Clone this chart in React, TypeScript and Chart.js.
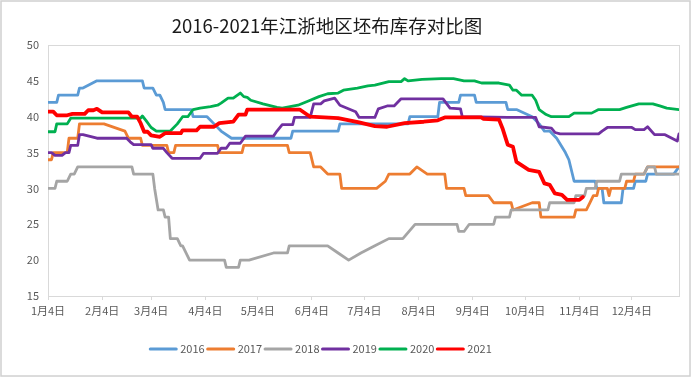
import React, { useEffect, useRef } from "react";
import { Chart, registerables } from "chart.js";

Chart.register(...registerables);

const FONT = '"Noto Sans CJK SC", "Noto Sans", sans-serif';

const TITLE = "2016-2021年江浙地区坯布库存对比图";

// day offsets from Jan 4 where the category axis labels sit
const TICK_DAYS = [0, 31, 59, 90, 120, 151, 181, 212, 243, 273, 304, 334];
const TICK_LABELS = [
  "1月4日", "2月4日", "3月4日", "4月4日", "5月4日", "6月4日",
  "7月4日", "8月4日", "9月4日", "10月4日", "11月4日", "12月4日",
];
const LAST_DAY = 361;
const Y_MIN = 15;
const Y_MAX = 50;
const Y_STEP = 5;

const SERIES_NAMES = ["2016", "2017", "2018", "2019", "2020", "2021"];
const SERIES_COLORS = ["#5B9BD5", "#ED7D31", "#A5A5A5", "#7030A0", "#00B050", "#FF0000"];

// [day offset from Jan 4, stock value]
const S2016: [number, number][] = [
  [0, 42], [5, 42], [6, 43], [17, 43], [18, 44], [20, 44], [28, 45], [54, 45], [55, 44], [60, 44],
  [62, 43], [64, 43], [66, 42], [67, 41], [82, 41], [83, 40], [91, 40], [95, 39], [99, 38], [105, 37],
  [139, 37], [140, 38], [166, 38], [167, 39], [206, 39], [207, 40], [223, 40], [224, 42], [235, 42],
  [236, 43], [244, 43], [245, 42], [262, 42], [263, 41], [268, 41], [277, 40], [281, 39], [284, 38],
  [287, 38], [291, 37], [296, 35], [298, 34], [301, 31], [313, 31], [314, 30], [317, 30], [318, 28],
  [328, 28], [329, 30], [335, 30], [336, 31], [342, 31], [343, 32], [358, 32], [361, 33],
];
const S2017: [number, number][] = [
  [0, 34], [2, 34], [3, 35], [11, 35], [12, 37], [17, 37], [18, 39], [32, 39], [44, 38], [46, 37],
  [53, 37], [54, 36], [68, 36], [69, 35], [72, 35], [73, 36], [97, 36], [98, 35], [111, 35], [112, 36],
  [137, 36], [138, 35], [150, 35], [152, 33], [156, 33], [160, 32], [167, 32], [168, 30], [188, 30],
  [193, 31], [195, 32], [207, 32], [211, 33], [217, 32], [227, 32], [228, 30], [238, 30], [239, 29],
  [252, 29], [255, 28], [265, 28], [266, 27], [277, 28], [281, 28], [282, 26], [301, 26], [302, 27],
  [308, 27], [310, 28], [312, 29], [314, 29], [315, 30], [320, 30], [321, 29], [322, 30],
  [330, 30], [331, 31], [335, 31], [336, 32], [341, 32], [343, 33], [361, 33],
];
const S2018: [number, number][] = [
  [0, 30], [4, 30], [5, 31], [11, 31], [13, 32], [15, 32], [17, 33], [48, 33], [49, 32], [60, 32],
  [61, 30], [63, 27], [66, 27], [67, 26], [69, 26], [70, 23], [74, 23], [76, 22], [77, 22], [81, 20],
  [101, 20], [102, 19], [109, 19], [110, 20], [115, 20], [129, 21], [137, 21], [138, 22], [160, 22],
  [166, 21], [172, 20], [179, 21], [187, 22], [195, 23], [203, 23], [210, 25], [234, 25], [235, 24],
  [238, 24], [241, 25], [255, 25], [256, 26], [264, 26], [265, 27], [286, 27], [287, 28], [301, 28],
  [302, 29], [307, 29], [308, 30], [313, 30], [314, 31], [327, 31], [328, 32], [341, 32], [343, 33],
  [347, 33], [348, 32], [361, 32],
];
const S2019: [number, number][] = [
  [0, 35], [2, 35], [4, 34.6], [8, 34.6], [10, 35], [12, 35], [13, 36], [17, 36], [18, 37.5], [20, 37.5],
  [28, 37], [45, 37], [47, 36.5], [49, 36.1], [59, 36.1], [60, 35.6], [66, 35.6], [68, 35], [71, 34.2],
  [87, 34.2], [89, 34.9], [97, 34.9], [99, 35.6], [102, 35.6], [104, 36.3], [110, 36.3], [113, 37.3],
  [129, 37.3], [131, 38], [134, 38.9], [140, 38.9], [141, 39.9], [150, 39.9], [152, 41.8], [156, 41.8],
  [158, 42.2], [164, 42.6], [167, 41.6], [176, 40.7], [178, 39.9], [187, 39.9], [189, 41.1], [194, 41.5],
  [198, 41.5], [202, 42.5], [226, 42.5], [230, 41.2], [236, 41.1], [237, 40], [263, 39.9], [279, 39.9],
  [281, 38.6], [288, 38.4], [290, 37.8], [293, 37.6], [315, 37.6], [317, 38], [320, 38.5], [334, 38.5],
  [336, 38.2], [341, 38.2], [343, 38.6], [347, 37.5], [353, 37.5], [360, 36.6], [361, 37.6],
];
const S2020: [number, number][] = [
  [0, 37.9], [4, 37.9], [5, 39], [11, 39], [13, 39.8], [53, 39.8], [54, 40.1], [56, 39.5], [59, 38.5],
  [62, 38], [70, 38], [74, 39], [77, 40], [80, 40], [83, 41], [87, 41.2], [93, 41.4], [97, 41.6],
  [99, 41.9], [103, 42.6], [106, 42.6], [110, 43.3], [112, 42.8], [114, 42.7], [116, 42.3], [123, 41.8],
  [131, 41.3], [134, 41.2], [143, 41.6], [149, 42.2], [155, 42.8], [160, 43.2], [166, 43.3], [169, 43.7],
  [177, 44], [183, 44.3], [187, 44.4], [195, 44.9], [202, 44.9], [204, 45.3], [206, 45], [214, 45.2],
  [225, 45.3], [232, 45.3], [238, 45], [244, 45], [248, 44.7], [258, 44.7], [264, 44.4], [266, 43.7],
  [268, 43.7], [271, 43], [277, 43], [279, 42.3], [281, 41], [285, 40.3], [288, 40], [298, 40],
  [301, 40.5], [311, 40.5], [315, 41], [327, 41], [331, 41.3], [338, 41.8], [346, 41.8], [350, 41.5],
  [354, 41.2], [361, 41],
];
const S2021: [number, number][] = [
  [0, 40.7], [3, 40.7], [5, 40.2], [11, 40.2], [14, 40.4], [21, 40.4], [23, 40.9], [26, 40.9], [28, 41.1],
  [31, 40.6], [46, 40.6], [48, 40], [51, 40], [53, 39.1], [55, 37.9], [57, 37.9], [59, 37.4], [64, 37.2],
  [67, 37.7], [76, 37.7], [77, 38.1], [85, 38.1], [87, 38.6], [95, 38.6], [98, 39.1], [106, 39.3],
  [109, 40.3], [113, 40.3], [114, 41], [144, 41], [150, 40], [166, 39.8], [178, 39.2], [187, 38.7],
  [194, 38.6], [204, 39.1], [215, 39.3], [223, 39.5], [227, 39.9], [248, 39.9], [249, 39.7], [258, 39.6],
  [260, 38.4], [263, 36.1], [266, 35.8], [268, 33.7], [275, 32.6], [281, 32.3], [284, 30.7], [287, 30.5],
  [290, 29.3], [294, 29.1], [297, 28.4], [304, 28.4], [306, 28.8],
];

const SERIES_DATA = [S2016, S2017, S2018, S2019, S2020, S2021];
const SERIES_WIDTHS = [2.8, 2.8, 2.8, 2.8, 2.8, 3.8];

const decorPlugin = {
  id: "decor",
  beforeDatasetsDraw(chart: any) {
    const { ctx, chartArea } = chart;
    ctx.save();
    ctx.strokeStyle = "#d9d9d9";
    ctx.lineWidth = 1;
    ctx.strokeRect(
      Math.round(chartArea.left) + 0.5,
      Math.round(chartArea.top) + 0.5,
      Math.round(chartArea.right - chartArea.left),
      Math.round(chartArea.bottom - chartArea.top)
    );
    ctx.restore();
  },
  afterDraw(chart: any) {
    const { ctx, width, height } = chart;
    ctx.save();
    // outer chart border
    ctx.strokeStyle = "#d0d0d0";
    ctx.lineWidth = 1.5;
    ctx.strokeRect(1, 1, width - 3, height - 3);

    // title
    ctx.fillStyle = "#1a1a1a";
    ctx.font = `18.5px ${FONT}`;
    ctx.textAlign = "center";
    ctx.textBaseline = "middle";
    ctx.fillText(TITLE, 327, 26);

    // legend
    ctx.font = `11px ${FONT}`;
    const items = chart.data.datasets.map((ds: any) => ({
      label: ds.label,
      color: ds.borderColor,
      w: ctx.measureText(ds.label).width,
    }));
    const sample = 28;
    const gapText = 3;
    const gapItem = 2;
    const total =
      items.reduce((s: number, it: any) => s + sample + gapText + it.w, 0) + gapItem * (items.length - 1);
    let x = 320.5 - total / 2;
    const y = 349;
    for (const it of items) {
      ctx.strokeStyle = it.color;
      ctx.lineWidth = 3;
      ctx.lineCap = "round";
      ctx.beginPath();
      ctx.moveTo(x + 1, y);
      ctx.lineTo(x + sample - 1, y);
      ctx.stroke();
      ctx.fillStyle = "#595959";
      ctx.textAlign = "left";
      ctx.textBaseline = "middle";
      ctx.fillText(it.label, x + sample + gapText, y);
      x += sample + gapText + it.w + gapItem;
    }
    ctx.restore();
  },
};

export default function App() {
  const canvasRef = useRef<HTMLCanvasElement | null>(null);

  useEffect(() => {
    const canvas = canvasRef.current;
    if (!canvas) return;
    const datasets = SERIES_NAMES.map((name, i) => ({
      label: name,
      data: SERIES_DATA[i].map(([d, v]) => ({ x: d, y: v })),
      borderColor: SERIES_COLORS[i],
      backgroundColor: SERIES_COLORS[i],
      borderWidth: SERIES_WIDTHS[i],
      pointRadius: 0,
      pointHoverRadius: 0,
      tension: 0,
      fill: false,
      borderJoinStyle: "round" as const,
      borderCapStyle: "round" as const,
      order: SERIES_NAMES.length - 1 - i,
    }));

    const chart = new Chart(canvas, {
      type: "line",
      data: { datasets },
      options: {
        animation: false,
        responsive: false,
        devicePixelRatio: 1,
        layout: { padding: { top: 45, right: 13, left: 0, bottom: 0 } },
        plugins: {
          legend: { display: false },
          title: { display: false },
          tooltip: { enabled: false },
        },
        scales: {
          x: {
            type: "linear",
            min: 0,
            max: LAST_DAY,
            afterBuildTicks: (scale: any) => {
              scale.ticks = TICK_DAYS.map((v) => ({ value: v }));
            },
            afterFit: (scale: any) => {
              scale.height = 82;
            },
            ticks: {
              autoSkip: false,
              maxRotation: 0,
              minRotation: 0,
              padding: 4,
              color: "#595959",
              font: { family: FONT, size: 11 },
              callback: (value: any) => {
                const idx = TICK_DAYS.indexOf(Number(value));
                return idx >= 0 ? TICK_LABELS[idx] : "";
              },
            },
            grid: {
              display: true,
              drawOnChartArea: false,
              drawTicks: true,
              tickLength: 4,
              color: "#d9d9d9",
            },
            border: { display: false },
          },
          y: {
            type: "linear",
            min: Y_MIN,
            max: Y_MAX,
            afterFit: (scale: any) => {
              scale.width = 48;
            },
            ticks: {
              stepSize: Y_STEP,
              padding: 9,
              color: "#595959",
              font: { family: FONT, size: 11 },
            },
            grid: { display: false, drawTicks: false },
            border: { display: false },
          },
        },
      },
      plugins: [decorPlugin],
    });

    return () => {
      chart.destroy();
    };
  }, []);

  return (
    <div style={{ position: "absolute", left: 0, top: 0, width: 692, height: 378, background: "#fff" }}>
      <canvas ref={canvasRef} width={692} height={378} style={{ display: "block" }} />
    </div>
  );
}
